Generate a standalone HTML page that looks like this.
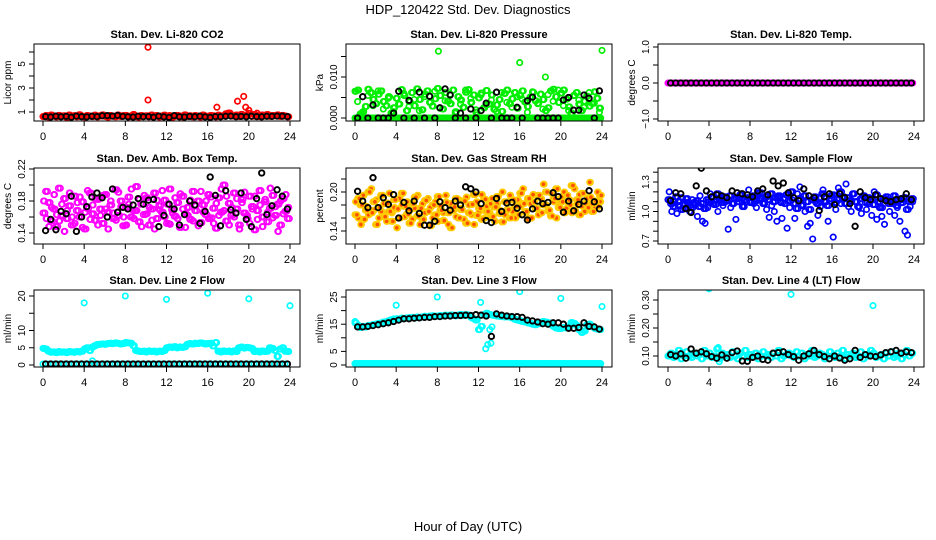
<!DOCTYPE html>
<html><head><meta charset="utf-8"><style>
html,body{margin:0;padding:0;background:#fff}
svg{display:block;font-family:"Liberation Sans",sans-serif}
</style></head><body>
<svg id="chart" width="936" height="540" viewBox="0 0 936 540" xmlns="http://www.w3.org/2000/svg">
<rect width="936" height="540" fill="#fff"/>
<text x="468" y="14" font-size="13" text-anchor="middle">HDP_120422  Std. Dev. Diagnostics</text>
<text x="468" y="531" font-size="13" text-anchor="middle">Hour of Day (UTC)</text>
</svg>
<script>
// ---- data ----
const xTicks=[0,4,8,12,16,20,24];
const co2Red=[0.62,0.70,0.58,0.75,0.66,0.60,0.72,0.64,0.68,0.57,0.74,0.63,0.69,0.61,0.77,0.65,0.59,0.71,0.66,0.62,0.73,0.60,0.68,0.76,0.64,0.58,0.70,0.67,0.61,0.74,0.63,0.69,0.72,0.60,0.66,0.78,0.62,0.58,0.71,0.65,0.68,0.61,0.75,0.63,0.70,0.59,0.66,0.73,0.62,0.69,0.57,0.64,0.72,0.67,0.60,0.76,0.63,0.68,0.61,0.70,0.65,0.59,0.74,0.66,0.62,0.71,0.68,0.60,0.73,0.64,0.69,0.85,0.92,0.70,0.66,0.75,0.63,0.80,0.68,0.72,0.88,0.65,0.78,0.70,0.62,0.74,0.67,0.79,0.64,0.71,0.69,0.76,0.63,0.72,0.66,0.60];
const co2OutT=[10.2,10.2,16.9,18.2,18.9,19.5,19.7,20.0,20.8];
const co2OutV=[6.4,2.0,1.4,0.9,1.9,2.3,1.4,1.15,0.9];
const co2Blk=[0.62,0.58,0.65,0.60,0.63,0.57,0.66,0.61,0.59,0.64,0.62,0.68,0.70,0.66,0.72,0.63,0.60,0.58,0.64,0.61,0.62,0.57,0.66,0.59,0.55,0.70,0.60,0.58,0.63,0.61,0.65,0.59,0.55,0.62,0.60,0.64,0.66,0.61,0.63,0.60,0.65,0.62,0.60,0.64,0.63,0.66,0.65,0.62];
const presGreen=[0.0065,0.0068,0.001,0.0015,0.0028,0.007,0.0062,0.0045,0.0035,0.0058,0.0066,0.004,0.003,0.0052,0.0012,0.0025,0.0048,0.0034,0.0069,0.0055,0.0018,0.004,0.0062,0.003,0.0071,0.0045,0.002,0.0058,0.0066,0.0038,0.0029,0.0047,0.0072,0.0055,0.0022,0.0062,0.0041,0.0035,0.0068,0.0015,0.0052,0.0044,0.0026,0.0063,0.0069,0.0038,0.0056,0.0014,0.0049,0.0061,0.0025,0.0067,0.0034,0.0056,0.0021,0.0032,0.0045,0.0016,0.006,0.0068,0.0035,0.0047,0.0062,0.0024,0.0055,0.0066,0.0039,0.0028,0.0051,0.0063,0.0042,0.0036,0.0058,0.0045,0.0018,0.0025,0.0066,0.007,0.0052,0.0038,0.0061,0.0068,0.0046,0.0027,0.0012,0.0055,0.0062,0.0034,0.0018,0.0041,0.0053,0.0029,0.0036,0.0064,0.0048,0.0024];
const presGreen2=[0.004,0.0012,0.0055,0.003,0.0066,0.0022,0.0048,0.0015,0.0035,0.006,0.0028,0.0045,0.0018,0.0052,0.0038,0.0065,0.0024,0.0042,0.0058,0.0012,0.0034,0.0068,0.0048,0.002,0.0056,0.0031,0.0044,0.0016,0.0062,0.0038,0.0026,0.0052,0.0046,0.0014,0.0064,0.0035,0.0022,0.0057,0.0041,0.0068,0.003,0.0018,0.0055,0.0044,0.0026,0.0062,0.0036,0.0014];
const presZero=[0,0,0,0,0,0,0,0,0,0,0,0,0,0,0,0,0,0,0,0,0,0,0,0,0,0,0,0,0,0,0,0,0,0,0,0,0,0,0,0,0,0,0,0,0,0,0,0,0,0,0,0,0,0,0,0,0,0,0,0,0,0,0,0,0,0,0,0,0,0,0,0,0,0,0,0,0,0,0,0,0,0,0,0,0,0,0,0,0,0,0,0,0,0,0,0];
const presOutT=[8.1,16.0,18.5,24.0];
const presOutV=[0.0163,0.0135,0.010,0.0165];
const presBlk=[0,0.0052,0,0.0032,0,0,0,0.0012,0.0065,0,0.0043,0,0.0063,0,0.0053,0,0.0025,0.0071,0.0056,0,0.0012,0,0.0022,0,0.0018,0.0036,0,0.0063,0,0,0,0.0026,0,0.0042,0.0051,0,0,0,0,0,0.0044,0.0050,0.0019,0.0019,0.0056,0.0048,0,0.0066];
const tempMag=[0,0,0,0,0,0,0,0,0,0,0,0,0,0,0,0,0,0,0,0,0,0,0,0,0,0,0,0,0,0,0,0,0,0,0,0,0,0,0,0,0,0,0,0,0,0,0,0,0,0,0,0,0,0,0,0,0,0,0,0,0,0,0,0,0,0,0,0,0,0,0,0,0,0,0,0,0,0,0,0,0,0,0,0,0,0,0,0,0,0,0,0,0,0,0,0];
const tempBlk=[0,0,0,0,0,0,0,0,0,0,0,0,0,0,0,0,0,0,0,0,0,0,0,0,0,0,0,0,0,0,0,0,0,0,0,0,0,0,0,0,0,0,0,0,0,0,0,0];
const ambMagA=[0.165,0.192,0.178,0.155,0.170,0.148,0.196,0.162,0.183,0.158,0.174,0.150,0.186,0.168,0.160,0.179,0.145,0.171,0.190,0.164,0.156,0.182,0.170,0.152,0.188,0.166,0.175,0.158,0.194,0.162,0.180,0.149,0.172,0.185,0.160,0.168,0.198,0.154,0.176,0.163,0.184,0.150,0.170,0.190,0.158,0.174,0.166,0.181,0.152,0.195,0.169,0.161,0.178,0.147,0.186,0.164,0.172,0.157,0.192,0.168,0.180,0.153,0.175,0.163,0.188,0.159,0.171,0.146,0.184,0.166,0.200,0.155,0.177,0.162,0.190,0.170,0.150,0.182,0.165,0.158,0.186,0.173,0.144,0.168,0.193,0.160,0.179,0.154,0.171,0.187,0.162,0.176,0.150,0.183,0.167,0.158];
const ambMagB=[0.180,0.158,0.148,0.172,0.188,0.163,0.155,0.176,0.142,0.168,0.190,0.160,0.152,0.178,0.185,0.147,0.166,0.193,0.157,0.175,0.183,0.150,0.162,0.187,0.170,0.145,0.180,0.165,0.156,0.191,0.173,0.160,0.150,0.176,0.195,0.158,0.168,0.182,0.148,0.187,0.164,0.172,0.156,0.145,0.181,0.169,0.193,0.160,0.176,0.151,0.165,0.184,0.158,0.189,0.170,0.147,0.162,0.181,0.155,0.174,0.149,0.192,0.166,0.180,0.158,0.185,0.152,0.177,0.162,0.195,0.168,0.186,0.150,0.172,0.160,0.183,0.145,0.178,0.191,0.162,0.152,0.170,0.186,0.157,0.175,0.148,0.182,0.166,0.196,0.159,0.173,0.142,0.180,0.164,0.188,0.172];
const ambBlk=[0.143,0.157,0.144,0.167,0.164,0.186,0.142,0.160,0.173,0.185,0.190,0.184,0.160,0.195,0.166,0.172,0.170,0.175,0.183,0.176,0.181,0.182,0.148,0.162,0.176,0.170,0.150,0.163,0.180,0.175,0.152,0.167,0.210,0.187,0.149,0.193,0.169,0.165,0.190,0.157,0.148,0.183,0.215,0.163,0.174,0.194,0.186,0.170];
const rhA=[0.165,0.190,0.180,0.158,0.172,0.200,0.168,0.185,0.150,0.176,0.195,0.162,0.183,0.170,0.155,0.188,0.174,0.160,0.198,0.178,0.166,0.152,0.182,0.192,0.163,0.175,0.158,0.187,0.170,0.148,0.180,0.165,0.193,0.172,0.156,0.184,0.168,0.145,0.177,0.190,0.160,0.173,0.186,0.152,0.168,0.181,0.196,0.164,0.175,0.158,0.189,0.170,0.182,0.162,0.177,0.193,0.167,0.154,0.185,0.173,0.160,0.188,0.178,0.165,0.198,0.182,0.170,0.190,0.160,0.185,0.175,0.195,0.168,0.180,0.200,0.172,0.163,0.190,0.205,0.176,0.185,0.168,0.195,0.180,0.210,0.172,0.188,0.165,0.198,0.182,0.176,0.192,0.170,0.186,0.178,0.195];
const rhB=[0.185,0.160,0.150,0.195,0.178,0.165,0.205,0.172,0.188,0.160,0.170,0.182,0.155,0.198,0.168,0.176,0.145,0.190,0.180,0.162,0.185,0.172,0.158,0.175,0.195,0.150,0.182,0.168,0.190,0.176,0.160,0.185,0.155,0.178,0.168,0.195,0.150,0.182,0.172,0.162,0.188,0.175,0.158,0.192,0.180,0.165,0.150,0.185,0.170,0.196,0.160,0.178,0.168,0.190,0.155,0.182,0.172,0.200,0.165,0.185,0.195,0.170,0.160,0.188,0.178,0.205,0.168,0.158,0.182,0.196,0.175,0.165,0.190,0.212,0.180,0.170,0.198,0.185,0.160,0.178,0.192,0.200,0.175,0.188,0.168,0.205,0.182,0.196,0.178,0.170,0.190,0.215,0.182,0.175,0.200,0.185];
const rhBlk=[0.201,0.186,0.176,0.222,0.176,0.191,0.181,0.196,0.160,0.184,0.171,0.186,0.167,0.149,0.149,0.155,0.185,0.176,0.172,0.186,0.180,0.208,0.205,0.200,0.182,0.156,0.153,0.190,0.170,0.183,0.184,0.175,0.165,0.157,0.174,0.186,0.182,0.184,0.199,0.193,0.169,0.186,0.171,0.181,0.186,0.202,0.185,0.174];
const flowA=[1.12,1.08,1.05,1.15,1.10,1.02,1.07,1.13,1.06,1.04,1.09,1.11,1.05,1.08,1.03,1.12,1.10,1.14,1.07,1.18,1.12,1.09,1.15,1.11,1.16,1.08,1.13,1.10,1.17,1.05,1.12,1.14,1.09,1.16,1.11,1.19,1.13,1.08,1.15,1.12,1.18,1.10,1.14,1.16,1.09,1.13,1.17,1.11,1.20,1.08,1.03,1.13,1.06,1.16,1.10,1.02,1.12,1.15,1.08,1.14,1.18,1.10,1.06,1.13,1.17,1.09,1.12,1.20,1.15,1.08,1.14,1.11,1.18,1.10,1.05,1.13,1.16,1.09,1.14,1.12,1.07,1.17,1.10,1.04,1.13,1.15,1.08,1.11,1.16,1.06,1.12,1.09,1.14,1.02,1.10,1.13];
const flowB=[1.20,1.00,1.10,0.98,1.06,1.14,1.03,1.09,1.00,1.12,1.07,0.95,1.16,0.90,0.88,1.04,1.18,1.08,1.12,1.00,1.15,1.06,1.10,0.82,1.04,1.08,0.92,1.13,1.18,1.06,1.10,1.22,1.14,1.08,1.04,1.12,1.19,1.09,1.02,0.94,1.06,1.00,0.90,1.15,0.93,1.08,0.83,1.04,1.12,0.93,1.18,1.25,1.07,1.00,0.85,0.88,0.72,1.10,0.96,1.05,1.22,1.10,0.90,1.16,0.74,1.02,1.24,1.08,1.15,1.28,1.05,1.00,1.18,1.10,1.04,0.98,1.14,1.02,1.08,0.96,1.20,0.92,1.04,0.95,0.87,1.12,1.00,1.08,0.96,1.04,0.90,1.12,0.80,0.76,1.05,1.10];
const flowBlk=[1.11,1.19,1.18,1.03,0.99,1.26,1.44,1.21,1.15,1.17,1.16,1.14,1.21,1.19,1.18,1.17,1.15,1.21,1.23,1.17,1.31,1.26,1.29,1.19,1.14,1.11,1.23,1.16,1.14,1.01,1.15,1.18,1.07,1.18,1.14,1.08,0.85,1.20,1.14,1.12,1.17,1.13,1.11,1.10,1.12,1.13,1.18,1.12];
const l2Cyan=[4.8,4.6,4.0,3.7,3.8,3.6,3.9,3.7,3.8,3.6,3.9,3.8,3.7,3.9,3.8,4.0,4.6,5.0,4.2,5.2,5.6,5.9,6.0,6.1,6.0,6.2,6.3,6.2,6.4,6.3,6.1,6.2,6.5,6.4,6.3,5.6,4.2,4.0,3.9,4.0,3.8,4.1,3.9,4.0,3.8,4.0,3.9,4.2,5.0,5.2,5.1,5.3,5.0,5.2,5.1,5.3,6.0,6.2,6.1,6.3,6.2,6.4,6.3,6.1,6.2,6.3,5.5,6.5,4.0,3.8,4.1,3.9,4.0,3.8,4.1,3.9,5.0,5.2,4.9,5.1,5.0,4.8,3.9,4.0,3.8,4.1,3.9,4.0,5.0,4.8,4.2,2.5,4.6,5.0,4.0,3.9];
const l2CyanLow=[0.3,0.3,0.3,0.3,0.3,0.3,0.3,0.3,0.3,0.3,0.3,0.3,0.3,0.3,0.3,0.3,0.3,0.3,0.3,0.3,0.3,0.3,0.3,0.3,0.3,0.3,0.3,0.3,0.3,0.3,0.3,0.3,0.3,0.3,0.3,0.3,0.3,0.3,0.3,0.3,0.3,0.3,0.3,0.3,0.3,0.3,0.3,0.3];
const l2OutT=[4.0,8.0,12.0,16.0,20.0,24.0,4.8];
const l2OutV=[18.0,20.0,19.0,20.8,19.2,17.2,1.2];
const l2Blk=[0.3,0.3,0.3,0.3,0.3,0.3,0.3,0.3,0.3,0.3,0.3,0.3,0.3,0.3,0.3,0.3,0.3,0.3,0.3,0.3,0.3,0.3,0.3,0.3,0.3,0.3,0.3,0.3,0.3,0.3,0.3,0.3,0.3,0.3,0.3,0.3,0.3,0.3,0.3,0.3,0.3,0.3,0.3,0.3,0.3,0.3,0.3,0.3];
const l3Cyan=[15.5,14.5,13.8,14.2,14.0,14.5,14.6,14.9,15.0,15.3,15.4,15.8,15.9,16.3,16.6,16.9,17.0,16.8,17.2,17.1,17.3,17.4,17.5,17.3,17.6,17.5,17.7,17.9,17.8,18.0,18.1,17.9,18.0,18.2,18.1,18.3,18.2,18.4,18.3,18.1,18.4,18.6,18.2,18.5,18.3,17.5,17.0,16.5,13.0,14.2,18.5,19.0,18.6,18.4,18.2,18.0,17.9,17.8,17.7,17.8,17.6,17.3,16.8,16.5,16.3,16.0,15.8,15.5,15.3,15.0,14.8,15.2,15.6,16.0,15.8,15.5,15.0,14.2,13.6,13.4,13.5,13.8,13.6,14.0,15.6,15.3,14.5,13.0,12.0,12.5,14.8,15.0,14.2,13.5,13.2,13.0];
const l3CyanLow=[0.5,0.5,0.5,0.5,0.5,0.5,0.5,0.5,0.5,0.5,0.5,0.5,0.5,0.5,0.5,0.5,0.5,0.5,0.5,0.5,0.5,0.5,0.5,0.5,0.5,0.5,0.5,0.5,0.5,0.5,0.5,0.5,0.5,0.5,0.5,0.5,0.5,0.5,0.5,0.5,0.5,0.5,0.5,0.5,0.5,0.5,0.5,0.5,0.5,0.5,0.5,0.5,0.5,0.5,0.5,0.5,0.5,0.5,0.5,0.5,0.5,0.5,0.5,0.5,0.5,0.5,0.5,0.5,0.5,0.5,0.5,0.5,0.5,0.5,0.5,0.5,0.5,0.5,0.5,0.5,0.5,0.5,0.5,0.5,0.5,0.5,0.5,0.5,0.5,0.5,0.5,0.5,0.5,0.5,0.5,0.5];
const l3OutT=[0.0,4.0,8.0,12.2,16.0,20.0,24.0,12.7,12.9,13.1,13.3,13.2];
const l3OutV=[16.0,22.0,25.0,23.0,27.0,24.5,21.5,6.0,7.5,13.0,14.0,8.0];
const l3Blk=[14.0,14.0,14.2,14.5,14.8,15.2,15.5,16.0,16.5,17.0,17.0,17.2,17.3,17.5,17.5,17.8,17.8,18.0,18.0,18.2,18.2,18.3,18.2,18.5,18.3,18.0,10.5,18.8,18.3,18.0,17.8,17.8,17.5,16.5,16.2,15.8,15.2,15.0,15.5,15.5,15.0,13.5,13.5,13.8,15.5,14.2,14.0,13.2];
const l4Cyan=[0.10,0.11,0.095,0.105,0.12,0.09,0.10,0.115,0.10,0.095,0.11,0.10,0.105,0.09,0.12,0.10,0.11,0.095,0.10,0.125,0.09,0.11,0.10,0.105,0.095,0.115,0.10,0.09,0.11,0.10,0.12,0.095,0.105,0.10,0.11,0.09,0.10,0.115,0.10,0.105,0.095,0.11,0.10,0.12,0.09,0.10,0.105,0.11,0.10,0.095,0.115,0.10,0.11,0.09,0.105,0.10,0.12,0.095,0.10,0.11,0.105,0.09,0.10,0.115,0.10,0.095,0.11,0.10,0.12,0.09,0.105,0.10,0.11,0.095,0.10,0.115,0.09,0.105,0.10,0.12,0.11,0.095,0.10,0.105,0.09,0.11,0.10,0.115,0.095,0.10,0.11,0.09,0.105,0.12,0.10,0.11];
const l4OutT=[4.0,12.0,20.0,5.0,4.9];
const l4OutV=[0.34,0.32,0.28,0.08,0.13];
const l4Blk=[0.105,0.100,0.108,0.092,0.125,0.110,0.115,0.108,0.098,0.092,0.104,0.092,0.112,0.118,0.082,0.081,0.095,0.100,0.088,0.085,0.110,0.112,0.115,0.105,0.098,0.085,0.100,0.108,0.120,0.105,0.098,0.090,0.100,0.093,0.085,0.090,0.120,0.095,0.105,0.100,0.098,0.104,0.112,0.115,0.120,0.110,0.115,0.112];

// ---- layout ----
const svg=document.getElementById('chart');
const NS='http://www.w3.org/2000/svg';
function mk(tag,attrs,parent){const e=document.createElementNS(NS,tag);for(const k in attrs)e.setAttribute(k,attrs[k]);(parent||svg).appendChild(e);return e;}
const cols=[{l:34,r:300,x0:43,x1:290},{l:346,r:612,x0:355,x1:602},{l:658,r:924,x0:668,x1:914}];
const rows=[{t:44,b:121},{t:168,b:244},{t:290,b:367}];
function xScale(c,t){return c.x0+(c.x1-c.x0)*t/24;}
function yScale(p,v){return p.py0+(p.py1-p.py0)*(v-p.v0)/(p.v1-p.v0);}
function regT(n,off){const a=[];for(let i=0;i<n;i++)a.push(off+i*24/n);return a;}

const panels=[
 {c:0,r:0,name:'co2',title:'Stan. Dev. Li-820 CO2',yl:'Licor ppm',v0:1,py0:112,v1:5,py1:64,ticks:[1,2,3,4,5,6],labs:[[1,'1'],[3,'3'],[5,'5']],
  series:[{v:co2Red,col:'#ff0000'},{v:co2Red,col:'#ff0000',off:0.12},{t:co2OutT,v:co2OutV,col:'#ff0000'},{v:co2Blk,col:'#000',blk:1}]},
 {c:1,r:0,name:'pressure',title:'Stan. Dev. Li-820 Pressure',yl:'kPa',v0:0,py0:118,v1:0.010,py1:77,ticks:[0,0.005,0.010,0.015],labs:[[0,'0.000'],[0.010,'0.010']],
  series:[{v:presZero,col:'#00ee00'},{v:presZero,col:'#00ee00',off:0.12},{v:presGreen,col:'#00ee00'},{v:presGreen,col:'#00ee00',off:0.1},{v:presGreen2,col:'#00ee00',off:0.25},{t:presOutT,v:presOutV,col:'#00ee00'},{v:presBlk,col:'#000',blk:1}]},
 {c:2,r:0,name:'li820-temp',title:'Stan. Dev. Li-820 Temp.',yl:'degrees C',v0:-1,py0:119,v1:1,py1:47,ticks:[-1,-0.5,0,0.5,1],labs:[[-1,'\u22121.0'],[0,'0.0'],[1,'1.0']],
  series:[{v:tempMag,col:'#ff00ff'},{v:tempMag,col:'#ff00ff',off:0.12},{v:tempBlk,col:'#000',blk:1}]},
 {c:0,r:1,name:'amb-temp',title:'Stan. Dev. Amb. Box Temp.',yl:'degrees C',v0:0.14,py0:233,v1:0.22,py1:169,ticks:[0.14,0.16,0.18,0.20,0.22],labs:[[0.14,'0.14'],[0.18,'0.18'],[0.22,'0.22']],
  series:[{v:ambMagA,col:'#ff00ff'},{v:ambMagB,col:'#ff00ff',off:0.12},{v:ambMagB,col:'#ff00ff',off:0.06},{v:ambMagA,col:'#ff00ff',off:0.18},{v:ambBlk,col:'#000',blk:1}]},
 {c:1,r:1,name:'gas-rh',title:'Stan. Dev. Gas Stream RH',yl:'percent',v0:0.14,py0:231,v1:0.20,py1:192,ticks:[0.14,0.16,0.18,0.20,0.22],labs:[[0.14,'0.14'],[0.20,'0.20']],
  series:[{v:rhA,col:'#ffcc00',fill:'#ff5000'},{v:rhB,col:'#ffcc00',fill:'#ff5000',off:0.12},{v:rhB,col:'#ffcc00',fill:'#ff5000',off:0.06},{v:rhA,col:'#ffcc00',fill:'#ff5000',off:0.18},{v:rhBlk,col:'#000',blk:1}]},
 {c:2,r:1,name:'sample-flow',title:'Stan. Dev. Sample Flow',yl:'ml/min',v0:0.7,py0:241,v1:1.3,py1:182,ticks:[0.7,0.8,0.9,1.0,1.1,1.2,1.3,1.4],labs:[[0.7,'0.7'],[1.0,'1.0'],[1.3,'1.3']],
  series:[{v:flowA,col:'#0000ff'},{v:flowB,col:'#0000ff',off:0.12},{v:flowA,col:'#0000ff',off:0.18},{v:flowBlk,col:'#000',blk:1}]},
 {c:0,r:2,name:'line2-flow',title:'Stan. Dev. Line 2 Flow',yl:'ml/min',v0:0,py0:365,v1:20,py1:296,ticks:[0,5,10,15,20],labs:[[0,'0'],[5,'5'],[10,'10'],[20,'20']],
  series:[{v:l2Cyan,col:'#00ffff'},{v:l2Cyan,col:'#00ffff',off:0.12},{v:l2CyanLow,col:'#00ffff',off:0},{t:l2OutT,v:l2OutV,col:'#00ffff'},{v:l2Blk,col:'#000',blk:1}]},
 {c:1,r:2,name:'line3-flow',title:'Stan. Dev. Line 3 Flow',yl:'ml/min',v0:0,py0:365,v1:25,py1:297,ticks:[0,5,10,15,20,25],labs:[[0,'0'],[5,'5'],[15,'15'],[25,'25']],
  series:[{v:l3CyanLow,col:'#00ffff',off:0},{v:l3CyanLow,col:'#00ffff',off:0.12},{v:l3Cyan,col:'#00ffff'},{v:l3Cyan,col:'#00ffff',off:0.12},{t:l3OutT,v:l3OutV,col:'#00ffff'},{v:l3Blk,col:'#000',blk:1}]},
 {c:2,r:2,name:'line4-flow',title:'Stan. Dev. Line 4 (LT) Flow',yl:'ml/min',v0:0.10,py0:356,v1:0.30,py1:300,ticks:[0.10,0.15,0.20,0.25,0.30],labs:[[0.10,'0.10'],[0.20,'0.20'],[0.30,'0.30']],
  series:[{v:l4Cyan,col:'#00ffff'},{v:l4Cyan,col:'#00ffff',off:0.12},{t:l4OutT,v:l4OutV,col:'#00ffff'},{v:l4Blk,col:'#000',blk:1}]}
];

panels.forEach(p=>{
  const c=cols[p.c],r=rows[p.r];
  const g=mk('g',{});
  
  
  const tt=mk('text',{x:(c.l+c.r)/2,y:r.t-6,'font-size':11,'font-weight':'bold','text-anchor':'middle'},g);
  tt.textContent=p.title;
  
  
  const yl=mk('text',{x:0,y:0,'font-size':10,'text-anchor':'middle',transform:`translate(${c.l-23},${(r.t+r.b)/2}) rotate(-90)`},g);
  yl.textContent=p.yl;
  
  
  const cid='clip-'+p.name;
  const cp=mk('clipPath',{id:cid},g);
  mk('rect',{x:c.l,y:r.t,width:c.r-c.l,height:r.b-r.t},cp);
  const pts=mk('g',{'clip-path':`url(#${cid})`},g);
  
  
  p.series.forEach(s=>{
    const n=s.v.length;
    const ts=s.t||regT(n,s.off!==undefined?s.off:(s.blk?0.25:0));
    s.v.forEach((v,i)=>{
      const ci=mk('circle',{cx:xScale(c,ts[i]).toFixed(1),cy:yScale(p,v).toFixed(1),r:2.7,fill:s.fill||'none',stroke:s.col,'stroke-width':s.blk?1.9:1.7},pts);
      
      
    });
  });
  const box=mk('rect',{x:c.l,y:r.t,width:c.r-c.l,height:r.b-r.t,fill:'none',stroke:'#000','stroke-width':1},g);
  
  
  const xa=mk('g',{},g);
  
  
  mk('line',{x1:xScale(c,0),x2:xScale(c,24),y1:r.b,y2:r.b,stroke:'#000'},xa);
  xTicks.forEach(t=>{
    const x=xScale(c,t);
    mk('line',{x1:x,x2:x,y1:r.b,y2:r.b+5,stroke:'#000'},xa);
    const tl=mk('text',{x:x,y:r.b+19,'font-size':11,'text-anchor':'middle'},xa);
    tl.textContent=t;
    
    
  });
  const ya=mk('g',{},g);
  
  
  const ys=p.ticks.map(v=>yScale(p,v));
  mk('line',{x1:c.l,x2:c.l,y1:Math.min(...ys),y2:Math.max(...ys),stroke:'#000'},ya);
  p.ticks.forEach(v=>{const y=yScale(p,v);mk('line',{x1:c.l-5,x2:c.l,y1:y,y2:y,stroke:'#000'},ya);});
  p.labs.forEach(([v,s])=>{
    const y=yScale(p,v);
    const tl=mk('text',{x:0,y:0,'font-size':10,'text-anchor':'middle',transform:`translate(${c.l-9},${y}) rotate(-90)`},ya);
    tl.textContent=s;
    
    
  });
});
</script>
</body></html>
